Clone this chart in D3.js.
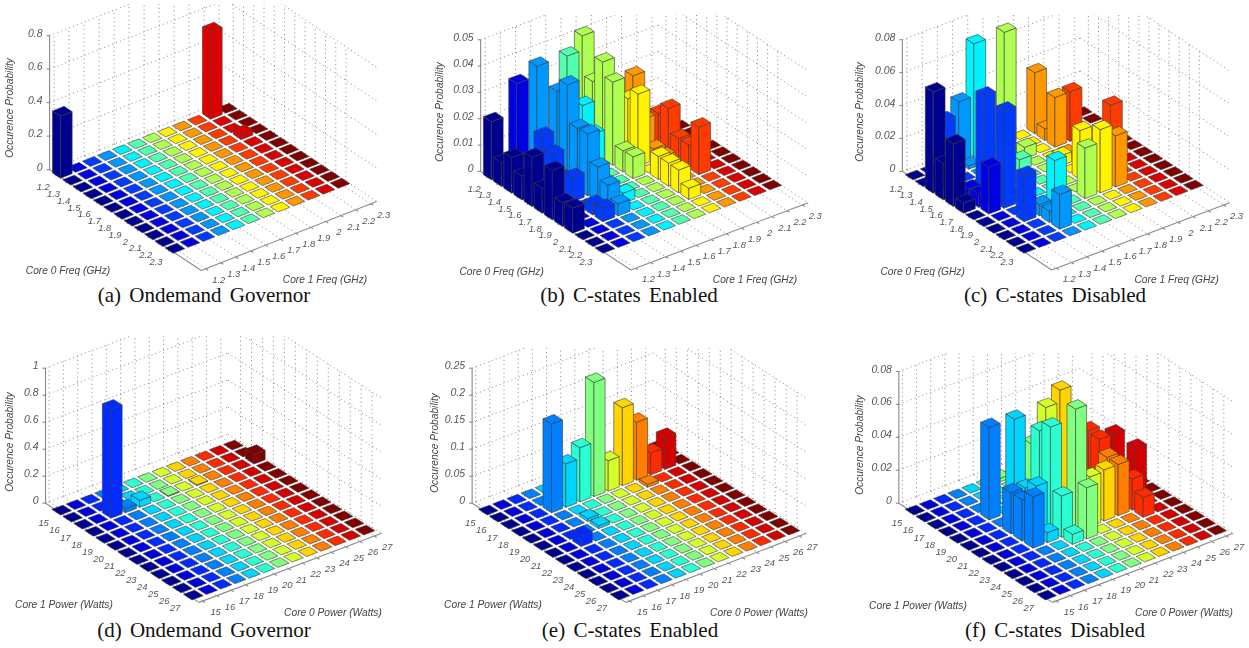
<!DOCTYPE html>
<html lang="en">
<head>
<meta charset="utf-8">
<title>Core frequency and power occurrence</title>
<script src="https://d3js.org/d3.v7.min.js"></script>
<style type="text/css">
	body { margin: 0; background-color: #fff; }
	svg { display: block; }
	.tick { font-family: "Liberation Sans", sans-serif; font-style: italic; font-size: 9.4px; fill: #555; }
	.ztick { font-family: "Liberation Sans", sans-serif; font-style: italic; font-size: 10.5px; fill: #555; }
	.title { font-family: "Liberation Sans", sans-serif; font-style: italic; font-size: 10.2px; fill: #444; }
	.caption { font-family: "Liberation Serif", serif; font-size: 21px; fill: #111; word-spacing: 3px; }
</style>
</head>
<body>
<script type="text/javascript">

// tick labels
var freqTicks = ["1.2","1.3","1.4","1.5","1.6","1.7","1.8","1.9","2","2.1","2.2","2.3"];
var powerTicks = ["15","16","17","18","19","20","21","22","23","24","25","26","27"];
var zTicksA = [0, 0.2, 0.4, 0.6, 0.8];
var zTicksB = [0, 0.01, 0.02, 0.03, 0.04, 0.05];
var zTicksC = [0, 0.02, 0.04, 0.06, 0.08];
var zTicksD = [0, 0.2, 0.4, 0.6, 0.8, 1];
var zTicksE = [0, 0.05, 0.1, 0.15, 0.2, 0.25];
var zTicksF = [0, 0.02, 0.04, 0.06, 0.08];

// occurrence probability, one row per left axis tick, one column per right axis tick
var occA = [
	[.37,0,0,0,0,0,0,0,0,0,.52,0],
	[0,0,0,0,0,0,0,0,0,0,0,0],
	[0,0,0,0,0,0,0,0,0,0,0,0],
	[0,0,0,0,0,0,0,0,0,0,.03,0],
	[0,0,0,0,0,0,0,0,0,0,0,0],
	[0,0,0,0,0,0,0,0,0,0,0,0],
	[0,0,0,0,0,0,0,0,0,0,0,0],
	[0,0,0,0,0,0,0,0,0,0,0,0],
	[0,0,0,0,0,0,0,0,0,0,0,0],
	[0,0,0,0,0,0,0,0,0,0,0,0],
	[0,0,0,0,0,0,0,0,0,0,0,0],
	[0,0,0,0,0,0,0,0,0,0,0,0]
];
var occB = [
	[.022,0,0,.0365,0,.036,.0415,0,0,0,0,0],
	[.009,.0368,0,0,0,0,.0267,0,0,0,0,0],
	[.0134,0,.0172,.032,0,0,.0366,0,.027,0,0,0],
	[.009,0,.0129,.037,.027,0,.0315,.023,.013,.013,0,0],
	[.0186,0,.006,.023,.0186,0,.008,.0273,.0043,.0175,0,0],
	[.0094,0,.0092,.0234,.003,0,.0082,0,.004,.0086,0,0],
	[.0187,0,0,.0134,0,0,0,.0087,0,.0087,0,0],
	[.009,0,.004,.009,.0038,0,0,.0087,0,.018,0,0],
	[.0094,0,.005,.0045,0,0,0,.0086,0,0,0,0],
	[0,0,0,0,0,0,0,.0042,0,0,0,0],
	[0,0,0,0,0,0,0,0,0,0,0,0],
	[0,0,0,0,0,0,0,0,0,0,0,0]
];
var occC = [
	[0,0,.0288,.0367,.0685,0,.0685,0,.037,0,0,0],
	[0,0,0,.002,0,0,0,0,.007,0,0,0],
	[.0614,0,0,0,0,0,.0067,0,.03,.03,0,0],
	[.022,0,0,0,0,.0067,0,0,0,0,0,0],
	[.038,.007,.06,0,0,0,0,.006,0,0,0,0],
	[.006,.008,0,0,0,0,0,0,0,0,0,0],
	[0,.0284,.059,0,0,0,0,.0296,0,.038,0,0],
	[0,0,0,0,0,0,0,0,0,0,0,0],
	[0,0,.028,.0067,.03,0,.0306,.0383,.031,0,0,0],
	[0,0,0,.0067,0,0,0,0,0,0,0,0],
	[0,0,0,.021,0,0,0,0,0,0,0,0],
	[0,0,0,0,0,0,0,0,0,0,0,0]
];
var occD = [
	[0,0,0,0,0,0,0,0,0,0,0,0,0],
	[0,0,0,0,0,0,0,0,0,0,0,0,0],
	[0,0,.807,.03,.05,0,.005,0,.005,0,0,0,.07],
	[0,0,0,0,0,0,0,0,0,0,0,0,0],
	[0,0,0,0,0,0,0,0,0,0,0,0,0],
	[0,0,0,0,0,0,0,0,0,0,0,0,0],
	[0,0,0,0,0,0,0,0,0,0,0,0,0],
	[0,0,0,0,0,0,0,0,0,0,0,0,0],
	[0,0,0,0,0,0,0,0,0,0,0,0,0],
	[0,0,0,0,0,0,0,0,0,0,0,0,0],
	[0,0,0,0,0,0,0,0,0,0,0,0,0],
	[0,0,0,0,0,0,0,0,0,0,0,0,0],
	[0,0,0,0,0,0,0,0,0,0,0,0,0]
];
var occE = [
	[0,0,0,0,0,0,0,0,0,0,0,0,0],
	[0,0,0,0,0,0,0,0,0,0,0,0,0],
	[0,0,0,.164,.08,.1,.211,.056,.144,.107,.04,.059,0],
	[0,0,0,0,0,0,0,0,0,.005,0,0,0],
	[0,0,0,0,.005,0,0,0,0,0,0,0,0],
	[0,0,0,0,.005,0,0,0,0,0,0,0,0],
	[0,0,.02,0,0,0,0,0,0,0,0,0,0],
	[0,0,0,0,0,0,0,0,0,0,0,0,0],
	[0,0,0,0,0,0,0,0,0,0,0,0,0],
	[0,0,0,0,0,0,0,0,0,0,0,0,0],
	[0,0,0,0,0,0,0,0,0,0,0,0,0],
	[0,0,0,0,0,0,0,0,0,0,0,0,0],
	[0,0,0,0,0,0,0,0,0,0,0,0,0]
];
var occF = [
	[0,0,0,0,0,0,.002,0,0,0,0,0,0],
	[0,0,0,0,0,0,0,0,0,0,0,0,0],
	[0,0,0,0,0,0,0,0,0,0,0,0,0],
	[0,0,0,.056,0,0,.036,.055,.0622,0,.031,0,0],
	[0,0,0,0,.062,0,0,0,0,0,.03,.03,0],
	[0,0,0,.025,.0245,.056,0,0,0,0,0,0,0],
	[0,0,0,.025,.03,.0626,0,0,0,.031,0,.03,0],
	[0,0,0,.031,.006,.025,.0745,.03,.031,.031,.019,0,0],
	[0,0,0,0,0,.006,.031,0,0,0,.012,0,0],
	[0,0,0,0,0,0,0,0,0,0,0,0,0],
	[0,0,0,0,0,0,0,0,0,0,0,0,0],
	[0,0,0,0,0,0,0,0,0,0,0,0,0],
	[0,0,0,0,0,0,0,0,0,0,0,0,0]
];

// Width and height
var w = 1249;
var h = 648;
var halfBar = 0.39;

var freqBox = { iLo: -0.8, iHi: 14, jLo: -0.3, jHi: 11.4 };
var powerBox = { iLo: -1.15, iHi: 12.85, jLo: -0.25, jHi: 12.5 };

// c00, cn0, cnn are the pixel centres of three corner cells of the floor
var panels = [
	{ occ: occA, zTicks: zTicksA, ticks: freqTicks, box: freqBox, c00: [62.3,173.3], cn0: [175,248.3], cnn: [340,183.3], zPx: 134, clipTop: 4,
	  left: "Core 0 Freq (GHz)", right: "Core 1 Freq (GHz)", leftAt: [68,274], rightAt: [325,283], yAt: [13,108],
	  caption: "(a) Ondemand Governor", capX: 204, capY: 302 },
	{ occ: occB, zTicks: zTicksB, ticks: freqTicks, box: freqBox, c00: [493.3,175], cn0: [605,248.3], cnn: [771.7,185], zPx: 131.7, clipTop: 15,
	  left: "Core 0 Freq (GHz)", right: "Core 1 Freq (GHz)", leftAt: [501.7,275], rightAt: [755,283], yAt: [442.7,112],
	  caption: "(b) C-states Enabled", capX: 629, capY: 302 },
	{ occ: occC, zTicks: zTicksC, ticks: freqTicks, box: freqBox, c00: [915,175], cn0: [1026,248.3], cnn: [1193.3,185], zPx: 131.7, clipTop: 15,
	  left: "Core 0 Freq (GHz)", right: "Core 1 Freq (GHz)", leftAt: [922.7,275], rightAt: [1176.7,283], yAt: [862.7,112],
	  caption: "(c) C-states Disabled", capX: 1055, capY: 302 },
	{ occ: occD, zTicks: zTicksD, ticks: powerTicks, box: powerBox, c00: [61.7,510], cn0: [193.3,595], cnn: [365,530], zPx: 135, clipTop: 336,
	  left: "Core 1 Power (Watts)", right: "Core 0 Power (Watts)", leftAt: [64,608], rightAt: [333,616], yAt: [13.3,442],
	  caption: "(d) Ondemand Governor", capX: 204, capY: 637 },
	{ occ: occE, zTicks: zTicksE, ticks: powerTicks, box: powerBox, c00: [488.3,510], cn0: [620,595], cnn: [790,530], zPx: 135, clipTop: 348,
	  left: "Core 1 Power (Watts)", right: "Core 0 Power (Watts)", leftAt: [493,608], rightAt: [759,616], yAt: [438,443],
	  caption: "(e) C-states Enabled", capX: 630, capY: 637 },
	{ occ: occF, zTicks: zTicksF, ticks: powerTicks, box: powerBox, c00: [915,510], cn0: [1046.7,595], cnn: [1216.7,530], zPx: 131.7, clipTop: 353,
	  left: "Core 1 Power (Watts)", right: "Core 0 Power (Watts)", leftAt: [918,609], rightAt: [1184,616], yAt: [863,445],
	  caption: "(f) C-states Disabled", capX: 1055, capY: 637 }
];

// jet colormap
var jet = d3.scaleLinear()
	.domain([0, 0.125, 0.375, 0.625, 0.875, 1])
	.range(["#00008f", "#0000ff", "#00ffff", "#ffff00", "#ff0000", "#800000"]);

var svg = d3.select("body").append("svg")
	.attr("width", w)
	.attr("height", h);

var defs = svg.append("defs");
defs.append("filter").attr("id", "soft")
	.append("feGaussianBlur").attr("stdDeviation", 0.45);

var polygon = d3.line();

panels.forEach(function(p, n) {
	var count = p.ticks.length;
	var b = p.box;

	// floor position: a unit scale along each floor direction
	var iScale = d3.scaleLinear().domain([0, count - 1]).range([0, 1]);
	var jScale = d3.scaleLinear().domain([0, count - 1]).range([0, 1]);
	var iVec = [p.cn0[0] - p.c00[0], p.cn0[1] - p.c00[1]];
	var jVec = [p.cnn[0] - p.cn0[0], p.cnn[1] - p.cn0[1]];
	var zMax = p.zTicks[p.zTicks.length - 1];
	var zScale = d3.scaleLinear().domain([0, zMax]).range([0, p.zPx]);

	function project(i, j, z) {
		return [
			p.c00[0] + iScale(i) * iVec[0] + jScale(j) * jVec[0],
			p.c00[1] + iScale(i) * iVec[1] + jScale(j) * jVec[1] - zScale(z)
		];
	}

	var g = svg.append("g").attr("filter", "url(#soft)");

	defs.append("clipPath").attr("id", "clip" + n)
		.append("rect")
		.attr("x", 0).attr("y", p.clipTop)
		.attr("width", w).attr("height", h);

	// dotted grid on floor and back walls
	var segs = [];
	d3.range(count).forEach(function(k) {
		segs.push([project(k, b.jLo, 0), project(k, b.jHi, 0)]);
		segs.push([project(b.iLo, k, 0), project(b.iHi, k, 0)]);
		segs.push([project(k, b.jHi, 0), project(k, b.jHi, zMax)]);
		segs.push([project(b.iLo, k, 0), project(b.iLo, k, zMax)]);
	});
	p.zTicks.forEach(function(t) {
		segs.push([project(b.iLo, b.jLo, t), project(b.iLo, b.jHi, t)]);
		segs.push([project(b.iLo, b.jHi, t), project(b.iHi, b.jHi, t)]);
	});

	g.append("g").attr("clip-path", "url(#clip" + n + ")")
		.selectAll("path").data(segs).join("path")
		.attr("d", polygon)
		.attr("fill", "none")
		.attr("stroke", "#777")
		.attr("stroke-width", 0.9)
		.attr("stroke-dasharray", "1 3.2");

	// solid axes
	var axisLines = [
		[project(b.iLo, b.jLo, 0), project(b.iHi, b.jLo, 0)],
		[project(b.iHi, b.jLo, 0), project(b.iHi, b.jHi, 0)],
		[project(b.iLo, b.jLo, 0), project(b.iLo, b.jLo, zMax)]
	];
	d3.range(count).forEach(function(k) {
		var a1 = project(k, b.jLo, 0);
		axisLines.push([a1, [a1[0] - 2.5, a1[1] + 1]]);
		var a2 = project(b.iHi, k, 0);
		axisLines.push([a2, [a2[0] + 2.5, a2[1] + 1.5]]);
	});
	p.zTicks.forEach(function(t) {
		var a3 = project(b.iLo, b.jLo, t);
		axisLines.push([a3, [a3[0] - 3, a3[1]]]);
	});
	g.append("g").selectAll("path").data(axisLines).join("path")
		.attr("d", polygon)
		.attr("fill", "none")
		.attr("stroke", "#8a8a8a")
		.attr("stroke-width", 1.1);

	// bars, back corner first
	var cells = [];
	d3.range(count).forEach(function(i) {
		d3.range(count - 1, -1, -1).forEach(function(j) {
			cells.push({ i: i, j: j, v: p.occ[i][j] });
		});
	});

	function faces(d) {
		var i0 = d.i - halfBar, i1 = d.i + halfBar, j0 = d.j - halfBar, j1 = d.j + halfBar;
		var top = [[project(i0, j0, d.v), project(i1, j0, d.v), project(i1, j1, d.v), project(i0, j1, d.v)]];
		if (d.v > 0) {
			top.push([project(i0, j0, 0), project(i1, j0, 0), project(i1, j0, d.v), project(i0, j0, d.v)]);
			top.push([project(i1, j0, 0), project(i1, j1, 0), project(i1, j1, d.v), project(i1, j0, d.v)]);
		}
		return top;
	}

	g.append("g").selectAll("g").data(cells).join("g")
		.selectAll("path")
		.data(function(d) {
			return faces(d).map(function(f) { return { pts: f, j: d.j }; });
		})
		.join("path")
		.attr("d", function(d) { return polygon(d.pts) + "Z"; })
		.attr("fill", function(d) { return jet(d.j / (count - 1)); })
		.attr("stroke", "#3a3a3a")
		.attr("stroke-width", 0.6)
		.attr("stroke-linejoin", "round");

	// tick labels
	g.append("g").selectAll("text").data(p.ticks).join("text")
		.attr("class", "tick")
		.attr("text-anchor", "middle")
		.attr("x", function(d, k) { return project(k, b.jLo, 0)[0] - 14.5; })
		.attr("y", function(d, k) { return project(k, b.jLo, 0)[1] + 15; })
		.text(function(d) { return d; });

	g.append("g").selectAll("text").data(p.ticks).join("text")
		.attr("class", "tick")
		.attr("text-anchor", "middle")
		.attr("x", function(d, k) { return project(b.iHi, k, 0)[0] + 13; })
		.attr("y", function(d, k) { return project(b.iHi, k, 0)[1] + 14; })
		.text(function(d) { return d; });

	g.append("g").selectAll("text").data(p.zTicks).join("text")
		.attr("class", "ztick")
		.attr("text-anchor", "end")
		.attr("x", function(d) { return project(b.iLo, b.jLo, d)[0] - 7; })
		.attr("y", function(d) { return project(b.iLo, b.jLo, d)[1] + 1; })
		.text(function(d) { return String(d); });

	// axis titles
	g.append("text").attr("class", "title").attr("text-anchor", "middle")
		.attr("x", p.leftAt[0]).attr("y", p.leftAt[1]).text(p.left);
	g.append("text").attr("class", "title").attr("text-anchor", "middle")
		.attr("x", p.rightAt[0]).attr("y", p.rightAt[1]).text(p.right);
	g.append("text").attr("class", "title").attr("text-anchor", "middle")
		.attr("transform", "translate(" + p.yAt[0] + "," + p.yAt[1] + ") rotate(-90)")
		.text("Occurence Probability");

	svg.append("text").attr("class", "caption").attr("text-anchor", "middle")
		.attr("x", p.capX).attr("y", p.capY).text(p.caption);
});

</script>
</body>
</html>
